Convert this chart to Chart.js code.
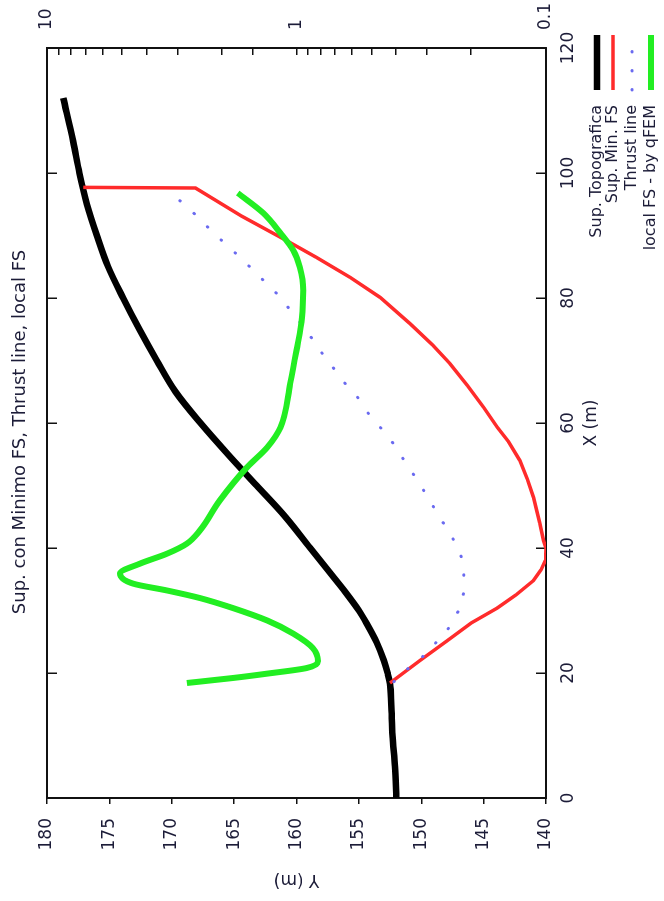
<!DOCTYPE html>
<html>
<head>
<meta charset="utf-8">
<script src="https://cdn.jsdelivr.net/npm/chart.js@4.4.1/dist/chart.umd.min.js"></script>
<style>
  html, body { margin: 0; padding: 0; background: #fff; overflow: hidden; }
  /* the chart is drawn the normal way round, then the whole thing is turned a quarter to the left */
  #wrap {
    position: absolute; left: 0; top: 0;
    width: 901px; height: 664px;
    transform-origin: 0 0;
    transform: translate(0, 901px) rotate(-90deg);
  }
</style>
</head>
<body>
<div id="wrap"><canvas id="fsChart" width="901" height="664"></canvas></div>
<script>
// Sup. Topografica
const topoX = [0, 5, 10, 15, 18.3, 20, 22, 25, 28, 30, 33, 36, 40, 45, 50, 55, 60, 65, 70, 75, 80, 85, 90, 95, 100, 105, 112];
const topoY = [152.0, 152.1, 152.3, 152.4, 152.5, 152.7, 153.0, 153.6, 154.4, 155.0, 156.1, 157.3, 158.9, 160.9, 163.2, 165.5, 167.7, 169.7, 171.2, 172.6, 173.9, 175.1, 176.0, 176.8, 177.4, 177.9, 178.7];

// Sup. Min. FS
const minFsX = [18.4, 22, 25.2, 28, 30.4, 32.5, 34.8, 36.5, 38, 40, 41.2, 44, 48.1, 51, 54, 57, 59.3, 62.5, 66, 69.5, 72.5, 75.9, 80.1, 83.3, 86.5, 89.4, 93.1, 97.6, 97.7];
const minFsY = [152.5, 150.1, 147.9, 146.0, 143.9, 142.4, 141.0, 140.4, 140.05, 140.0, 140.2, 140.5, 141.0, 141.5, 142.1, 143.0, 143.9, 145.0, 146.3, 147.7, 149.1, 150.9, 153.3, 155.7, 158.4, 161.0, 164.4, 168.1, 177.1];

// Thrust line
const thrustX = [18.6, 20.3, 22.4, 24.7, 27.2, 30.1, 33.3, 36.5, 39.7, 42.6, 45.5, 48.2, 51.1, 53.8, 56.6, 59.1, 61.7, 64.1, 66.8, 69.5, 72.1, 74.8, 77.5, 80.1, 82.3, 84.7, 87.0, 89.2, 91.5, 93.7, 96.0];
const thrustY = [152.2, 151.3, 150.0, 148.9, 147.8, 147.0, 146.6, 146.6, 147.0, 147.8, 148.7, 149.5, 150.4, 151.3, 152.2, 153.2, 154.3, 155.1, 156.3, 157.3, 158.3, 159.2, 160.3, 161.3, 162.4, 163.6, 164.8, 166.0, 167.2, 168.3, 169.6];

// local FS - by qFEM (right, log axis)
const fsX = [18.4, 19.2, 19.9, 20.8, 21.9, 24.0, 26.3, 28.4, 30.4, 32.0, 33.2, 34.3, 35.9, 37.5, 39.1, 40.7, 42.8, 47.6, 52.9, 56.1, 59.3, 66.3, 71.6, 76.9, 81.2, 84.9, 87.6, 90.4, 93.6, 96.8];
const fsVal = [2.75, 1.80, 1.31, 0.91, 0.82, 0.86, 1.03, 1.31, 1.80, 2.44, 3.30, 4.52, 5.10, 4.24, 3.30, 2.75, 2.44, 2.03, 1.58, 1.31, 1.16, 1.06, 1.00, 0.95, 0.94, 0.97, 1.03, 1.16, 1.36, 1.72];

const xTicksStep = 20;
const yTicksStep = 5;
const fsDecades = [0.1, 1, 10];

const textColor = '#1c1c38';
const frameColor = '#111';

Chart.defaults.font.family = '"DejaVu Sans", sans-serif';
Chart.defaults.color = textColor;

function pts(xs, ys) {
    return xs.map((x, i) => ({ x: x, y: ys[i] }));
}

// gnuplot style key: text right aligned, line sample on its right, one row each
const legendRows = [597, 613, 632, 651];
const sideLegend = {
    id: 'sideLegend',
    afterDraw(chart) {
        const ctx = chart.ctx;
        ctx.save();
        ctx.font = '16px "DejaVu Sans"';
        ctx.textAlign = 'right';
        ctx.textBaseline = 'middle';
        ctx.fillStyle = textColor;
        chart.data.datasets.forEach((ds, i) => {
            const y = legendRows[i];
            ctx.fillText(ds.label, 796, y);
            ctx.beginPath();
            ctx.strokeStyle = ds.borderColor;
            ctx.lineWidth = ds.borderWidth;
            ctx.lineCap = ds.borderCapStyle || 'butt';
            ctx.setLineDash(ds.borderDash || []);
            ctx.moveTo(811, y);
            ctx.lineTo(866, y);
            ctx.stroke();
        });
        ctx.restore();
    }
};

const grid = (len) => ({ drawOnChartArea: false, tickLength: len, color: frameColor, lineWidth: 1.5 });
const border = { color: frameColor, width: 2 };

new Chart(document.getElementById('fsChart'), {
    type: 'scatter',
    data: {
        datasets: [
            {
                label: 'Sup. Topografica',
                data: pts(topoX, topoY),
                borderColor: '#000000',
                borderWidth: 6.5,
                cubicInterpolationMode: 'monotone',
                order: 4,
            },
            {
                label: 'Sup. Min. FS',
                data: pts(minFsX, minFsY),
                borderColor: '#ff2b2b',
                borderWidth: 3.5,
                order: 3,
            },
            {
                label: 'Thrust line',
                data: pts(thrustX, thrustY),
                borderColor: '#6a6af0',
                borderWidth: 3,
                borderDash: [0.5, 18.5],
                borderCapStyle: 'round',
                cubicInterpolationMode: 'monotone',
                order: 2,
            },
            {
                label: 'local FS - by qFEM',
                data: pts(fsX, fsVal),
                borderColor: '#22ee22',
                borderWidth: 6,
                cubicInterpolationMode: 'monotone',
                yAxisID: 'y2',
                order: 1,
            },
        ].map(ds => Object.assign({ showLine: true, pointRadius: 0, fill: false }, ds)),
    },
    options: {
        responsive: false,
        animation: false,
        events: [],
        // negative right padding only moves the centre of the full width title
        layout: { padding: { left: 0, top: 0, bottom: 0, right: -37 } },
        plugins: {
            legend: { display: false },
            tooltip: { enabled: false },
            title: {
                display: true,
                text: 'Sup. con Minimo FS, Thrust line, local FS',
                color: textColor,
                font: { size: 18, weight: 'normal' },
                padding: { top: 10, bottom: 0 },
            },
        },
        scales: {
            x: {
                type: 'linear',
                position: 'bottom',
                min: 0,
                max: 120,
                ticks: { stepSize: xTicksStep, padding: 22, font: { size: 17 } },
                grid: grid(-10),
                border: border,
                title: { display: true, text: 'X (m)', font: { size: 17 }, padding: { top: 0, bottom: 62 } },
                afterFit: (s) => { s.height = 118; },
            },
            x2: {
                type: 'linear',
                position: 'top',
                min: 0,
                max: 120,
                ticks: { stepSize: xTicksStep, display: false },
                grid: grid(-10),
                border: border,
                afterFit: (s) => { s.height = 15.4; },
            },
            y: {
                type: 'linear',
                position: 'left',
                min: 140,
                max: 180,
                ticks: { stepSize: yTicksStep, padding: 14, font: { size: 17 } },
                grid: grid(6),
                border: border,
                title: { display: true, text: 'Y (m)', font: { size: 17 }, padding: { top: 11, bottom: 0 } },
                afterFit: (s) => { s.width = 103; },
            },
            y2: {
                type: 'logarithmic',
                position: 'right',
                min: 0.1,
                max: 10,
                ticks: {
                    autoSkip: false,
                    padding: 25,
                    font: { size: 17 },
                    callback: (v) => fsDecades.some(d => Math.abs(d - v) < 1e-9) ? String(v) : '',
                },
                grid: grid(-7),
                border: border,
                afterFit: (s) => { s.width = 85; },
            },
        },
    },
    plugins: [sideLegend],
});
</script>
</body>
</html>
